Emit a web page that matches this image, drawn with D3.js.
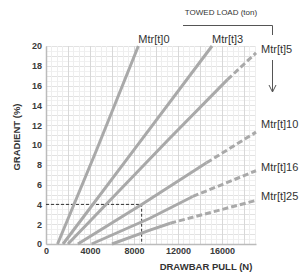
<!DOCTYPE html>
<html>
<head>
<meta charset="utf-8">
<script src="https://cdn.jsdelivr.net/npm/d3@7"></script>
<style>
  body { margin: 0; background: #fff; }
  svg { display: block; font-family: "Liberation Sans", Arial, sans-serif; }
  .tick-label { font-size: 9px; font-weight: bold; fill: #3a3a3a; }
  .axis-title { font-size: 9.5px; font-weight: bold; fill: #333; }
  .series-label { font-size: 11px; fill: #333; }
</style>
</head>
<body>
<svg id="chart"></svg>
<script>
const W = 301, H = 276

// series: drawbar pull (N) vs gradient (%)
const seriesNames = ['Mtr[t]0', 'Mtr[t]3', 'Mtr[t]5', 'Mtr[t]10', 'Mtr[t]16', 'Mtr[t]25']
const solidParts = [
  [[1050, 0], [4600, 9.5], [8400, 20]],
  [[1550, 0], [8000, 9.5], [15100, 20]],
  [[2000, 0], [11100, 10.5], [16500, 16.6]],
  [[2900, 0], [8700, 4.0], [14600, 8.2]],
  [[4150, 0], [9450, 2.6], [13350, 4.8]],
  [[6000, 0], [9450, 1.4], [11300, 2.1]],
]
const dashedParts = [
  [],
  [],
  [[16500, 16.6], [19100, 19.3]],
  [[14600, 8.2], [19100, 11.3]],
  [[13350, 4.8], [19100, 7.4]],
  [[11300, 2.1], [19100, 4.4]],
]
const xTicks = [0, 4000, 8000, 12000, 16000]
const yTicks = [0, 2, 4, 6, 8, 10, 12, 14, 16, 18, 20]
const xDomain = [0, 19100]
const yDomain = [0, 20]
const exampleGradient = 4
const examplePull = 8700

const PLOT = { left: 46, right: 256, top: 46, bottom: 244 }

const svg = d3.select('#chart').attr('width', W).attr('height', H)

const x = d3.scaleLinear().domain(xDomain).range([PLOT.left, PLOT.right])
const y = d3.scaleLinear().domain(yDomain).range([PLOT.bottom, PLOT.top])

// grid
const grid = svg.append('g').attr('class', 'grid')
grid.selectAll('.yminor').data(d3.range(0, 20.01, 0.5)).join('line')
  .attr('x1', PLOT.left).attr('x2', PLOT.right)
  .attr('y1', d => Math.round(y(d)) + 0.5).attr('y2', d => Math.round(y(d)) + 0.5)
  .attr('stroke', d => d % 1 === 0 ? '#e2e2e2' : '#f1f1f1')
grid.selectAll('.xminor').data(d3.range(0, 19001, 500)).join('line')
  .attr('y1', PLOT.top).attr('y2', PLOT.bottom)
  .attr('x1', d => Math.round(x(d)) + 0.5).attr('x2', d => Math.round(x(d)) + 0.5)
  .attr('stroke', d => d % 2000 === 0 ? '#d8d8d8' : '#eeeeee')

// axes
const axisX = d3.axisBottom(x).tickValues(xTicks).tickFormat(d3.format('d')).tickSize(0).tickPadding(4)
const axisY = d3.axisLeft(y).tickValues(yTicks).tickSize(0).tickPadding(4)
const gx = svg.append('g').attr('transform', `translate(0,${PLOT.bottom})`).call(axisX)
const gy = svg.append('g').attr('transform', `translate(${PLOT.left},0)`).call(axisY)
gx.select('.domain').attr('stroke', '#bbb').attr('stroke-width', 1.5)
gy.select('.domain').attr('stroke', '#bbb').attr('stroke-width', 1.5)
gx.selectAll('text').attr('class', 'tick-label').attr('font-family', null).attr('font-size', null).attr('fill', null)
gy.selectAll('text').attr('class', 'tick-label').attr('font-family', null).attr('font-size', null).attr('fill', null)

svg.append('text').attr('class', 'axis-title')
  .attr('transform', `translate(20,${(PLOT.top + PLOT.bottom) / 2 - 8}) rotate(-90)`)
  .attr('text-anchor', 'middle').text('GRADIENT (%)')
svg.append('text').attr('class', 'axis-title')
  .attr('x', 206).attr('y', 270)
  .attr('text-anchor', 'middle').text('DRAWBAR PULL (N)')

// example reading
svg.append('path')
  .attr('d', `M${x(0)},${y(exampleGradient)}H${x(examplePull)}V${y(0)}`)
  .attr('fill', 'none').attr('stroke', '#333').attr('stroke-width', 1)
  .attr('stroke-dasharray', '3,2')

// series
const line = d3.line().x(d => x(d[0])).y(d => y(d[1]))
const lines = svg.append('g')
lines.selectAll('.solid').data(solidParts).join('path')
  .attr('d', line).attr('fill', 'none')
  .attr('stroke', '#a9a9a9').attr('stroke-width', 3)
lines.selectAll('.dashed').data(dashedParts.filter(d => d.length)).join('path')
  .attr('d', line).attr('fill', 'none')
  .attr('stroke', '#a9a9a9').attr('stroke-width', 3)
  .attr('stroke-dasharray', '6,3')

// labels: top ones above the line end, right ones beside it
seriesNames.forEach((name, i) => {
  const pts = dashedParts[i].length ? dashedParts[i] : solidParts[i]
  const end = pts[pts.length - 1]
  if (!dashedParts[i].length) {
    svg.append('text').attr('class', 'series-label')
      .attr('x', x(end[0])).attr('y', y(end[1]) - 3).text(name)
  } else {
    const lift = i === 3 ? 8 : 4
    svg.append('text').attr('class', 'series-label')
      .attr('x', 261).attr('y', y(end[1]) - lift + 4).text(name)
  }
})

// towed load bracket + arrow
svg.append('text').attr('x', 221).attr('y', 15)
  .attr('text-anchor', 'middle').attr('font-size', 8).attr('fill', '#333')
  .text('TOWED LOAD (ton)')
svg.append('path').attr('d', 'M183,25.5H272.5V35')
  .attr('fill', 'none').attr('stroke', '#555').attr('stroke-width', 1)
svg.append('path').attr('d', 'M272.5,60V92M269,85L272.5,92L276,85')
  .attr('fill', 'none').attr('stroke', '#555').attr('stroke-width', 1)
</script>
</body>
</html>
